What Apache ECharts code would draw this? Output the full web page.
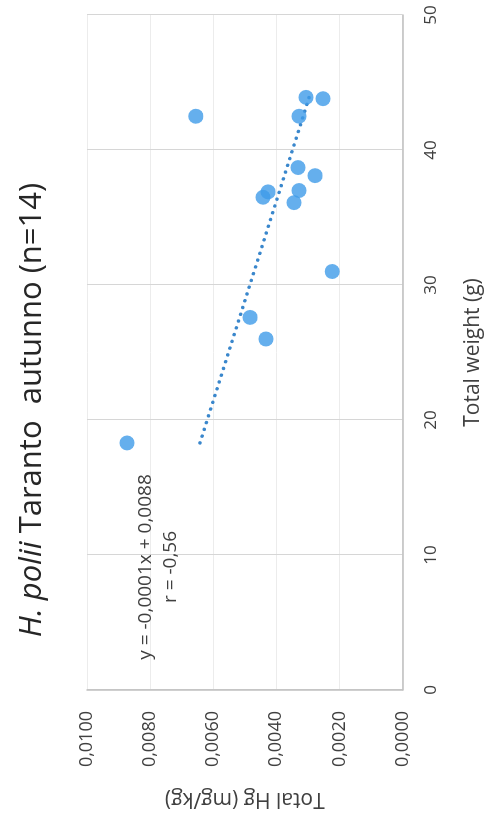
<!DOCTYPE html>
<html>
<head>
<meta charset="utf-8">
<script src="https://cdn.jsdelivr.net/npm/echarts@6/dist/echarts.min.js"></script>
<style>
  html, body { margin: 0; padding: 0; background: #fff; overflow: hidden; }
  #main {
    position: absolute; left: -168px; top: 168px;
    width: 820px; height: 484px;
    transform: rotate(-90deg);
  }
</style>
</head>
<body>
<div id="main"></div>
<script>
// Total weight (g)
var weight = [42.5, 43.9, 43.8, 42.5, 38.7, 38.1, 36.5, 36.9, 37.0, 36.1, 31.0, 27.6, 26.0, 18.3];
// Total Hg (mg/kg)
var hg = [0.00655, 0.00306, 0.00252, 0.00328, 0.00331, 0.00277, 0.00442, 0.00426, 0.00328, 0.00344, 0.00223, 0.00483, 0.00433, 0.00873];
// trendline ends, as drawn
var trendX = [18.3, 43.9];
var trendY = [0.00642, 0.00296];
var xTicks = [0, 10, 20, 30, 40, 50];
var yTicks = [0, 0.002, 0.004, 0.006, 0.008, 0.01];

(function () {
  var myChart = echarts.init(document.getElementById('main'));
  var font = 'Open Sans';

  var points = weight.map(function (w, i) { return [w, hg[i]]; });
  var trend = trendX.map(function (x, i) { return [x, trendY[i]]; });

  var option = {
    animation: false,
    backgroundColor: '#fff',
    title: [
      {
        text: '{i|H. polii} Taranto  autunno (n=14)',
        left: 'center',
        top: 17,
        padding: 0,
        textStyle: {
          fontFamily: font, fontSize: 31, fontWeight: 'normal', color: '#262626',
          rich: {
            i: { fontFamily: font, fontSize: 31, fontStyle: 'italic', color: '#262626' }
          }
        }
      },
      {
        text: 'y = -0,0001x + 0,0088\nr = -0,56',
        left: 253,
        top: 133,
        padding: 0,
        textAlign: 'center',
        textStyle: {
          fontFamily: font, fontSize: 19, fontWeight: 'normal', color: '#404040',
          lineHeight: 25, align: 'center'
        }
      }
    ],
    grid: { left: 130, right: 15, top: 87, bottom: 81.5, containLabel: false, outerBoundsMode: 'none' },
    xAxis: {
      type: 'value',
      min: xTicks[0], max: xTicks[xTicks.length - 1], interval: 10,
      name: 'Total weight (g)',
      nameLocation: 'middle',
      nameGap: 60,
      nameTextStyle: { fontFamily: font, fontSize: 21, color: '#404040' },
      axisLine: { show: true, lineStyle: { color: '#bfbfbf', width: 1.5 } },
      axisTick: { show: false },
      axisLabel: { fontFamily: font, fontSize: 17, color: '#404040', margin: 20 },
      splitLine: { show: true, lineStyle: { color: '#d6d6d6', width: 1 } }
    },
    yAxis: {
      type: 'value',
      min: yTicks[0], max: yTicks[yTicks.length - 1], interval: 0.002,
      name: 'Total Hg (mg/kg)',
      nameLocation: 'middle',
      nameRotate: 90,
      nameGap: 98,
      nameTextStyle: { fontFamily: font, fontSize: 21, color: '#404040' },
      axisLine: { show: true, lineStyle: { color: '#bfbfbf', width: 1.5 } },
      axisTick: { show: false },
      axisLabel: {
        fontFamily: font, fontSize: 18, color: '#404040', margin: 21,
        formatter: function (v) { return v.toFixed(4).replace('.', ','); }
      },
      splitLine: { show: true, lineStyle: { color: '#ececec', width: 1 } }
    },
    series: [
      {
        name: 'Hg',
        type: 'scatter',
        symbolSize: 15,
        itemStyle: { color: '#3f9be8' },
        data: points,
        z: 3
      },
      {
        name: 'trend',
        type: 'line',
        symbol: 'none',
        lineStyle: { color: '#3a87cc', width: 3.5, type: [0.1, 7], cap: 'round' },
        data: trend,
        z: 2
      }
    ]
  };

  myChart.setOption(option);
})();
</script>
</body>
</html>
